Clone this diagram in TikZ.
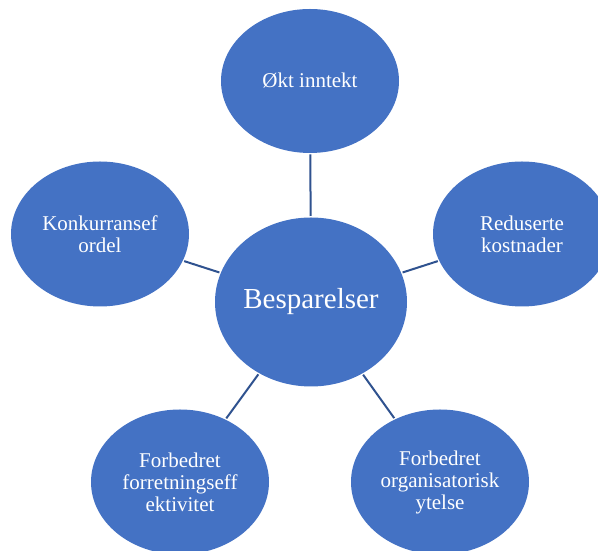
\documentclass[tikz,border=0pt]{standalone}
\usepackage{fontspec}
\setmainfont{Liberation Serif}
\usetikzlibrary{shapes.geometric}

\definecolor{bubbleblue}{HTML}{4472C4}
\definecolor{spokeblue}{HTML}{2F528F}

\begin{document}
\begin{tikzpicture}[x=1pt,y=1pt,
    bubble/.style={ellipse, fill=bubbleblue, text=white, align=center, inner sep=0pt,
        outer sep=1.5pt, minimum width=178pt, minimum height=145pt,
        font=\fontsize{21}{22}\selectfont},
    hub/.style={bubble, minimum width=192pt, minimum height=169pt,
        font=\fontsize{29}{33}\selectfont},
    spoke/.style={draw=spokeblue, line width=2pt}]
                \useasboundingbox (0,0) rectangle (598,551);
                
                % Centre
                \node[hub] (besp) at (311,249) {Besparelser};
                
                % Outer bubbles
                \node[bubble, minimum height=144pt] (inntekt) at (310,470) {Økt inntekt};
                \node[bubble] (konk) at (100,317) {Konkurransef\\ordel};
                \node[bubble] (kost) at (522,317) {Reduserte\\kostnader};
                \node[bubble] (forr) at (180,69) {Forbedret\\forretningseff\\ektivitet};
                \node[bubble] (org) at (440,69) {Forbedret\\organisatorisk\\ytelse};
                
                % Spokes
                \draw[spoke] (besp) -- (inntekt);
                \draw[spoke] (besp) -- (konk);
                \draw[spoke] (besp) -- (kost);
                \draw[spoke] (besp) -- (forr);
                \draw[spoke] (besp) -- (org);
\end{tikzpicture}
\end{document}
